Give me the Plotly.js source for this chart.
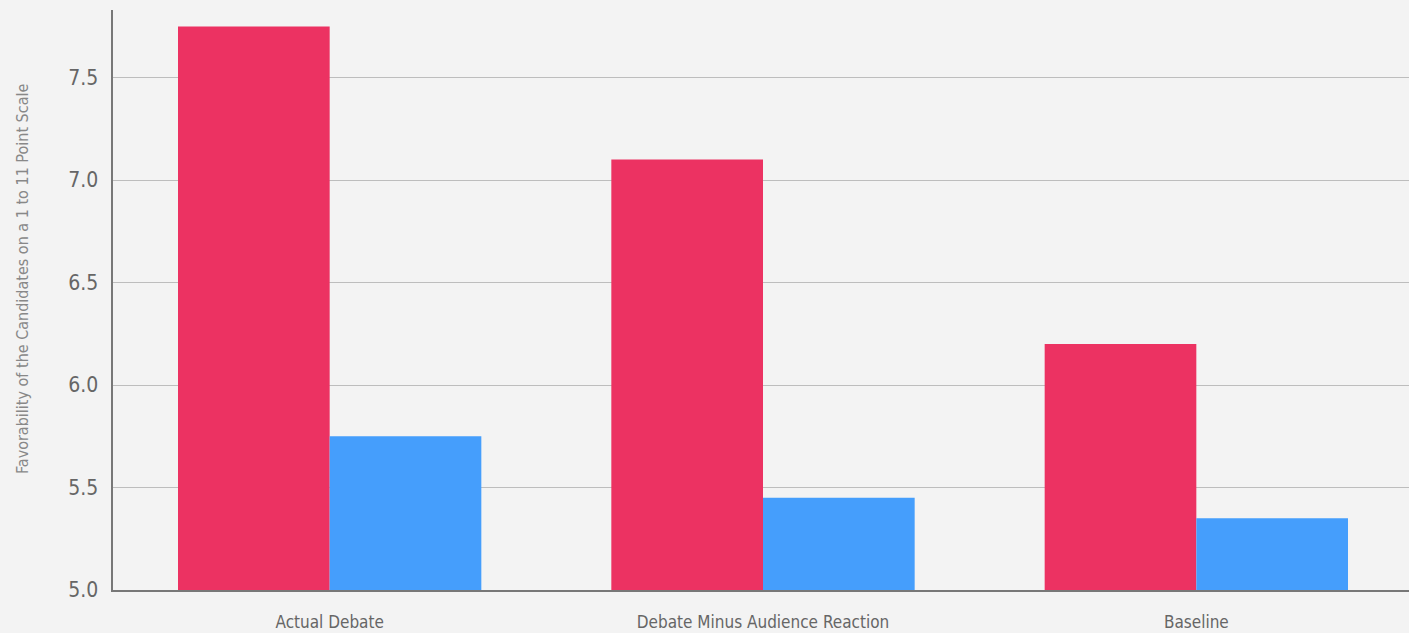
<!DOCTYPE html>
<html><head><meta charset="utf-8">
<script src="https://cdn.plot.ly/plotly-3.0.1.min.js"></script>
<style>html,body{margin:0;padding:0;background:#f3f3f3;overflow:hidden;width:1409px;height:633px;}#chart{width:1413px;height:633px;}</style>
</head><body><div id="chart"></div>
<script>
const categories = ["Actual Debate", "Debate Minus Audience Reaction", "Baseline"];
const seriesA = [7.75, 7.10, 6.20];
const seriesB = [5.75, 5.45, 5.35];
const yTicks = [5.0, 5.5, 6.0, 6.5, 7.0, 7.5];
const yTickText = ["5.0", "5.5", "6.0", "6.5", "7.0", "7.5"];
const yTitle = 'Favorability of the Candidates on a 1 to 11 Point Scale';
const fontFam = '"DejaVu Sans Condensed", "Liberation Sans Narrow", sans-serif';

const data = [
  {type:'bar', x:categories, y:seriesA, marker:{color:'#ec3262'}, name:'A'},
  {type:'bar', x:categories, y:seriesB, marker:{color:'#459efc'}, name:'B'}
];
const layout = {
  width:1413, height:633,
  paper_bgcolor:'#f3f3f3', plot_bgcolor:'#f3f3f3',
  margin:{l:113, r:0, t:10, b:43},
  barmode:'group', bargap:0.3, bargroupgap:0,
  showlegend:false,
  font:{family:fontFam, color:'#666'},
  xaxis:{
    showgrid:false, showline:true, linecolor:'#777', linewidth:2,
    tickfont:{size:17, color:'#666', family:fontFam},
    ticks:'', ticklabelstandoff:16, zeroline:false
  },
  yaxis:{
    range:[5.0, 7.83], tickvals:yTicks, ticktext:yTickText,
    showgrid:true, gridcolor:'#bdbdbd', gridwidth:1,
    showline:true, linecolor:'#777', linewidth:2.5,
    tickfont:{size:21, color:'#666', family:fontFam},
    ticks:'', ticklabelstandoff:8, zeroline:false
  },
  annotations:[{
    text:yTitle, textangle:-90, showarrow:false,
    xref:'paper', yref:'paper', x:(22-113)/1300, y:(590-279)/580,
    xanchor:'center', yanchor:'middle',
    font:{size:16, color:'#888', family:fontFam}
  }]
};
Plotly.newPlot('chart', data, layout, {displayModeBar:false, staticPlot:true});
</script></body></html>
